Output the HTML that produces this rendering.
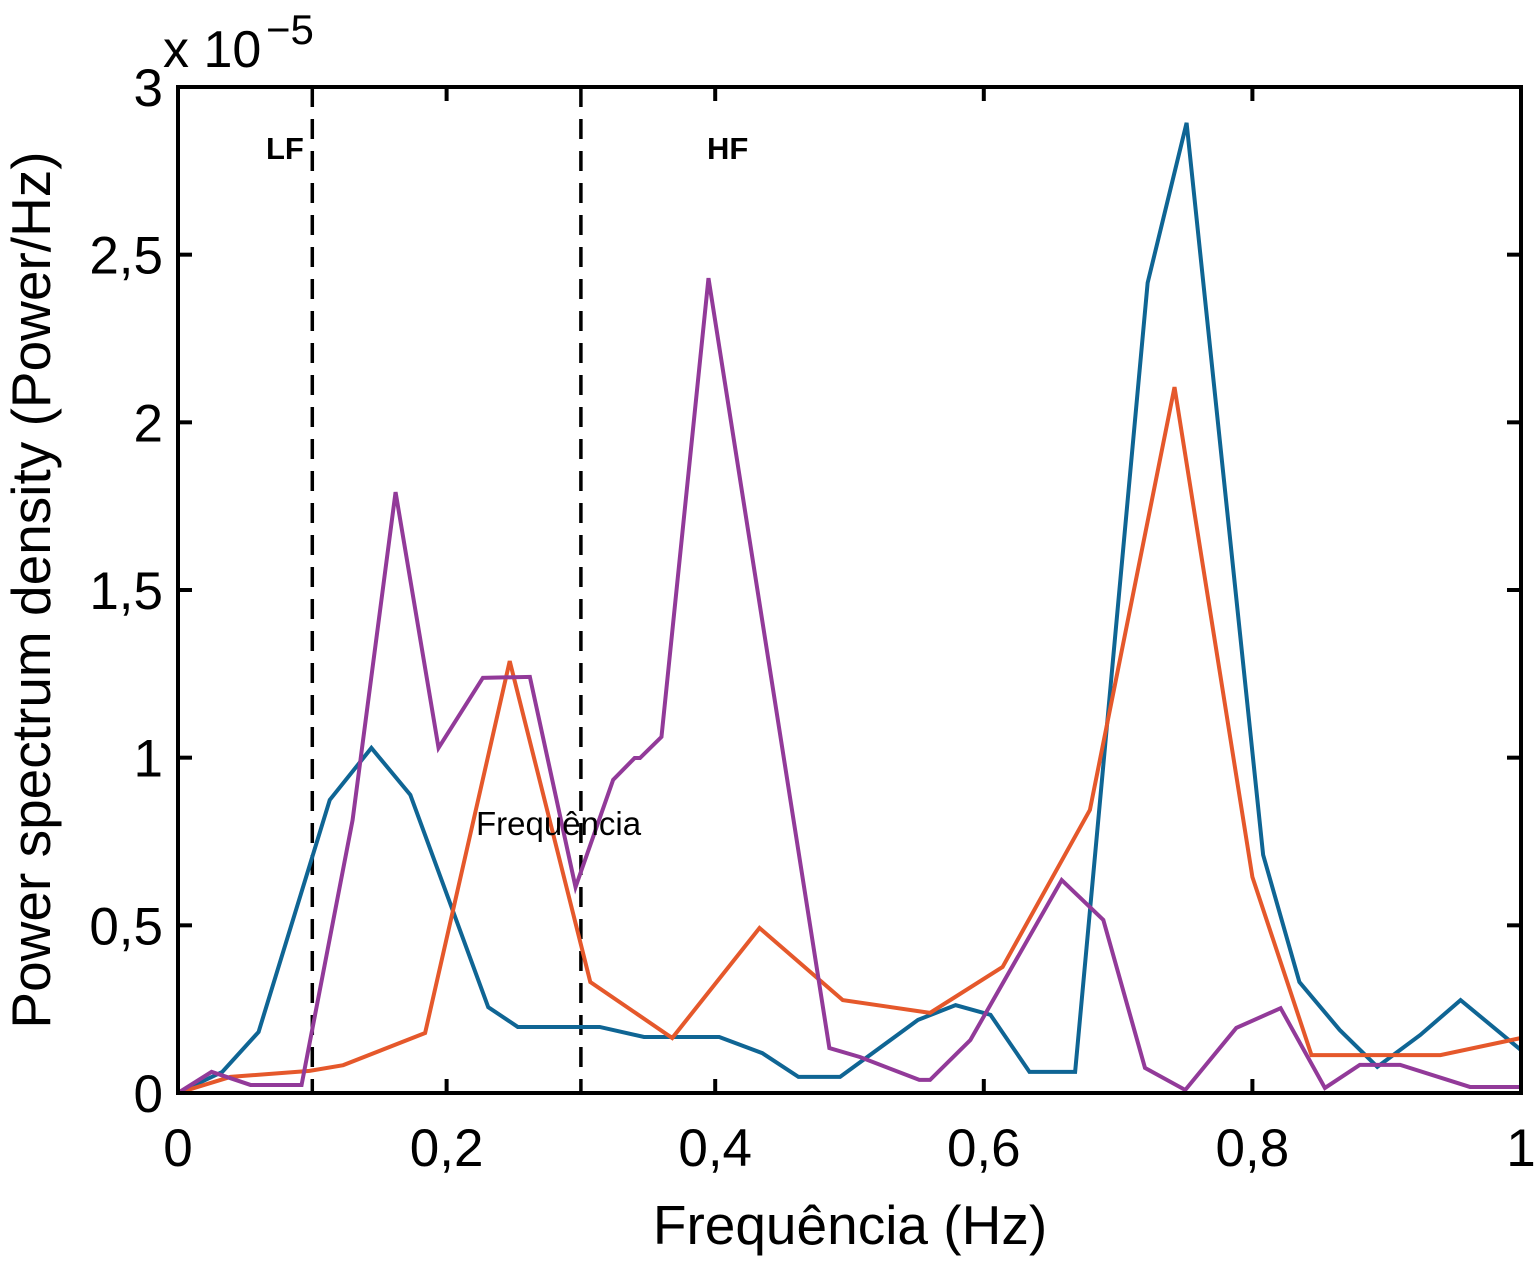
<!DOCTYPE html>
<html><head><meta charset="utf-8"><style>
body{margin:0;background:#fff}
svg text{font-family:"Liberation Sans",sans-serif;fill:#000}
</style></head><body>
<svg id="chart" width="1537" height="1270" xmlns="http://www.w3.org/2000/svg">
<g id="marks"></g>
<g id="axes"></g>
<text x="163" y="67" font-size="52">x 10</text>
<text x="266" y="44" font-size="42">−5</text>
<text x="266" y="159" font-size="31" font-weight="bold">LF</text>
<text x="707" y="159" font-size="31" font-weight="bold">HF</text>
<text x="476" y="835" font-size="33">Frequência</text>
<text x="850" y="1244" font-size="55" text-anchor="middle">Frequência (Hz)</text>
<text transform="translate(50,590) rotate(-90)" font-size="55" text-anchor="middle">Power spectrum density (Power/Hz)</text>
</svg>
<script>
const blueX=[0,0.033,0.060,0.113,0.144,0.173,0.231,0.253,0.314,0.347,0.403,0.435,0.462,0.493,0.551,0.579,0.605,0.634,0.668,0.722,0.751,0.808,0.835,0.865,0.893,0.925,0.955,1.0];
const blueY=[0,0.063,0.182,0.874,1.029,0.889,0.256,0.197,0.197,0.167,0.167,0.119,0.048,0.048,0.218,0.262,0.233,0.063,0.063,2.416,2.893,0.710,0.331,0.188,0.078,0.173,0.277,0.128];
const orangeX=[0,0.039,0.098,0.123,0.184,0.247,0.307,0.368,0.433,0.495,0.560,0.614,0.679,0.742,0.800,0.844,0.865,0.940,1.0];
const orangeY=[0,0.048,0.066,0.083,0.179,1.288,0.331,0.164,0.492,0.277,0.239,0.376,0.844,2.105,0.644,0.113,0.113,0.113,0.164];
const purpleX=[0,0.025,0.054,0.092,0.130,0.162,0.194,0.227,0.262,0.296,0.324,0.340,0.344,0.360,0.395,0.485,0.508,0.552,0.560,0.590,0.658,0.689,0.720,0.750,0.788,0.821,0.854,0.880,0.910,0.962,1.0];
const purpleY=[0,0.063,0.024,0.024,0.814,1.792,1.029,1.238,1.241,0.614,0.934,0.999,0.999,1.062,2.430,0.134,0.107,0.039,0.039,0.158,0.635,0.516,0.075,0.009,0.194,0.253,0.015,0.084,0.084,0.018,0.018];
const xTicks=[0,0.2,0.4,0.6,0.8,1];
const xTickLabels=["0","0,2","0,4","0,6","0,8","1"];
const yTicks=[0,0.5,1,1.5,2,2.5,3];
const yTickLabels=["0","0,5","1","1,5","2","2,5","3"];
const bandLines=[0.1,0.3];

const L=178,R=1521,T=87,B=1093;
const sx=v=>L+v*(R-L);
const sy=v=>B-v/3*(B-T);
const NS="http://www.w3.org/2000/svg";
const marks=document.getElementById('marks'),axes=document.getElementById('axes');
function mk(tag,attrs,parent){const e=document.createElementNS(NS,tag);for(const k in attrs)e.setAttribute(k,attrs[k]);parent.appendChild(e);return e;}

bandLines.forEach((b,i)=>{
  const l=mk('line',{x1:sx(b),x2:sx(b),y1:T,y2:B,stroke:'#000','stroke-width':3.5,'stroke-dasharray':'20 12'},marks);
  
  
});
[[blueX,blueY,'#0f6594','blue-series'],[orangeX,orangeY,'#e5582b','orange-series'],[purpleX,purpleY,'#923a99','purple-series']].forEach(([xs,ys,c,n])=>{
  const p=mk('polyline',{points:xs.map((x,i)=>sx(x)+','+sy(ys[i])).join(' '),fill:'none',stroke:c,'stroke-width':4,'stroke-linejoin':'miter'},marks);
  
  
});
const frame=mk('rect',{x:L,y:T,width:R-L,height:B-T,fill:'none',stroke:'#000','stroke-width':4},axes);


xTicks.forEach((t,i)=>{
  mk('line',{x1:sx(t),x2:sx(t),y1:B,y2:B-14,stroke:'#000','stroke-width':4},axes);
  mk('line',{x1:sx(t),x2:sx(t),y1:T,y2:T+14,stroke:'#000','stroke-width':4},axes);
  const tx=mk('text',{x:sx(t),y:1166,'font-size':53,'text-anchor':'middle'},axes);
  tx.textContent=xTickLabels[i];
  
  
});
yTicks.forEach((t,i)=>{
  mk('line',{x1:L,x2:L+14,y1:sy(t),y2:sy(t),stroke:'#000','stroke-width':4},axes);
  mk('line',{x1:R,x2:R-14,y1:sy(t),y2:sy(t),stroke:'#000','stroke-width':4},axes);
  const tx=mk('text',{x:163,y:sy(t)+19,'font-size':53,'text-anchor':'end'},axes);
  tx.textContent=yTickLabels[i];
  
  
});
</script>
</body></html>
